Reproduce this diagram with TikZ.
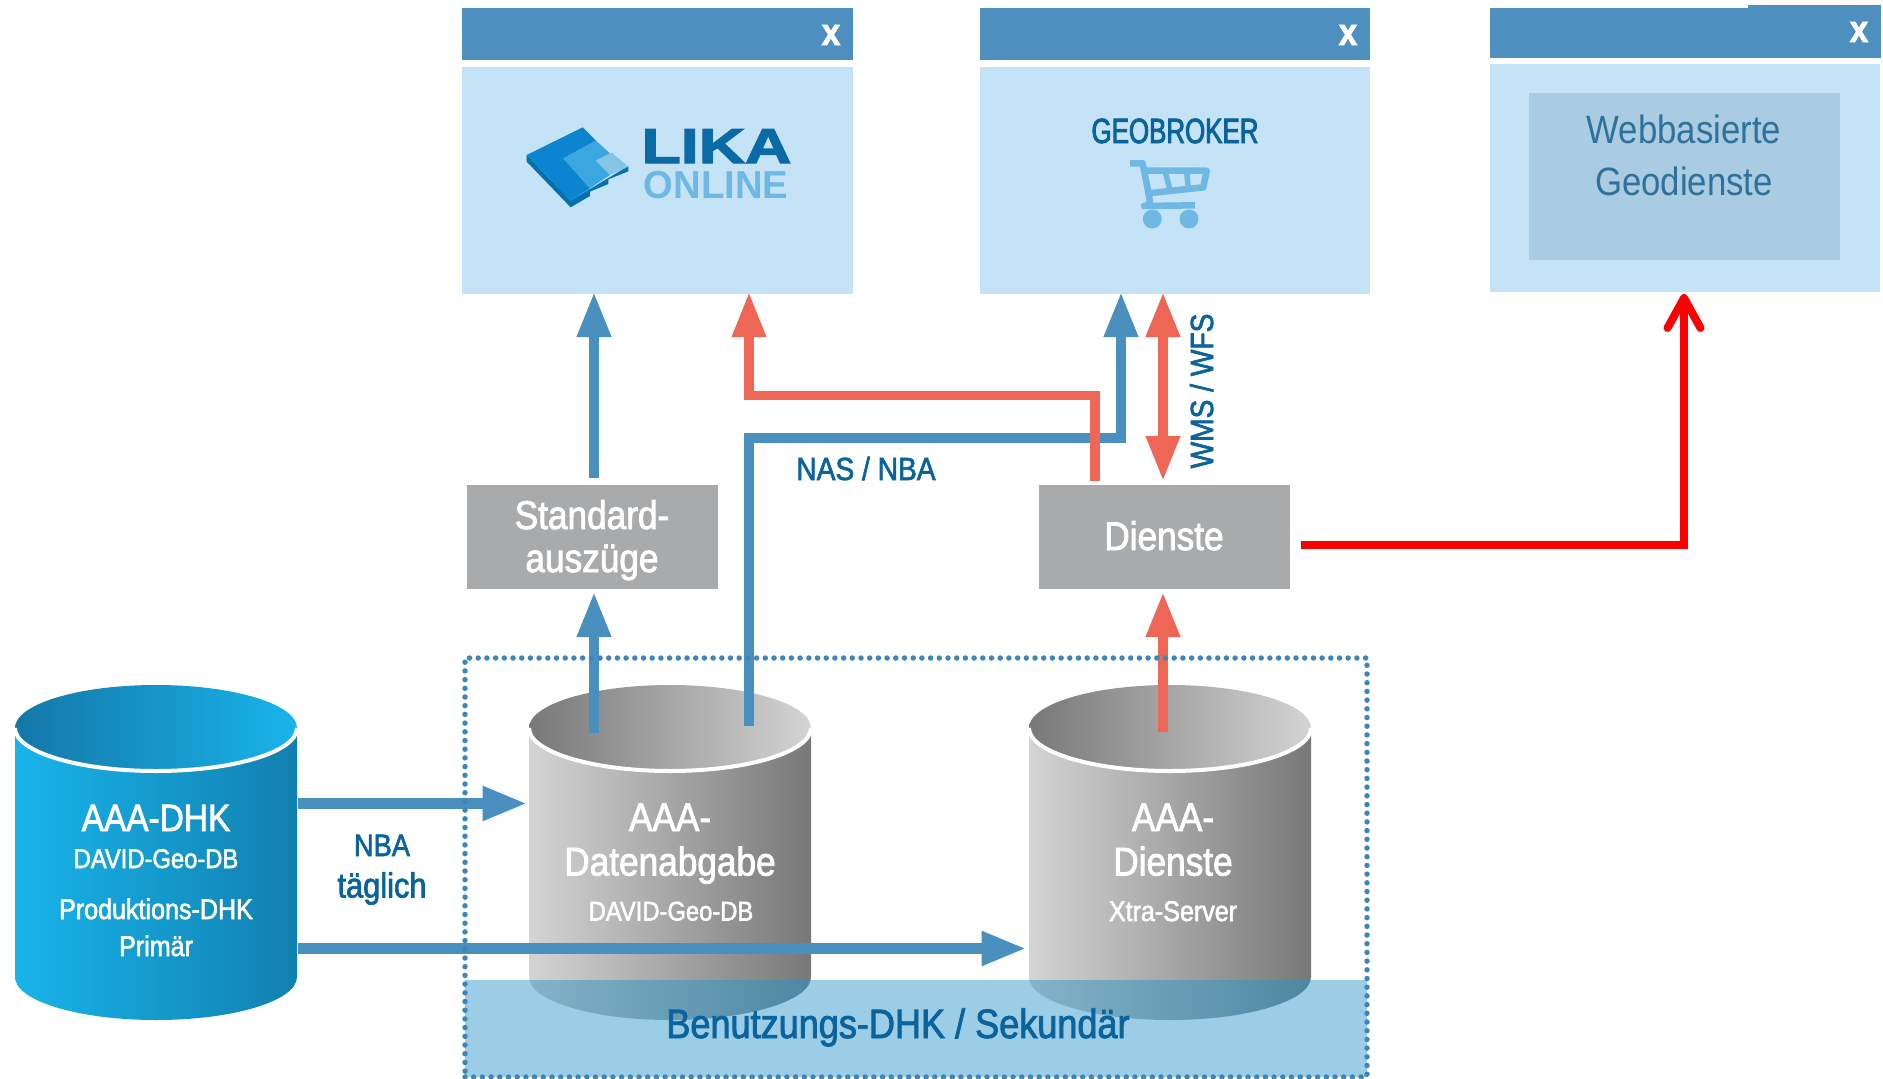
\documentclass[tikz,border=0pt]{standalone}
\usepackage{fontspec}
\setmainfont{Liberation Sans}[FakeStretch=0.88,FakeBold=2]
\newfontfamily\webfont{Liberation Sans}[FakeStretch=0.88]
\newfontfamily\geofont{Liberation Sans}[FakeStretch=0.74,FakeBold=2.5]
\newfontfamily\likafont{Liberation Sans Bold}[FakeStretch=1.31,FakeBold=3]
\newfontfamily\onlinefont{Liberation Sans}[FakeStretch=0.98]
\usetikzlibrary{arrows.meta,calc}
\newcommand\fsz[1]{\fontsize{#1}{#1}\selectfont}
\definecolor{headblue}{HTML}{4D8FBE}
\definecolor{bodyblue}{HTML}{C5E3F6}
\definecolor{innerblue}{HTML}{A9CCE2}
\definecolor{webtext}{HTML}{2F7199}
\definecolor{linkblue}{HTML}{4A90BF}
\definecolor{linkred}{HTML}{EE6655}
\definecolor{boxgray}{HTML}{A9AAAB}
\definecolor{labelblue}{HTML}{0B639C}
\definecolor{bandblue}{HTML}{9BCDE6}
\definecolor{dotblue}{HTML}{3F86B8}
\definecolor{cartblue}{HTML}{6FB8E4}
\definecolor{cyanbright}{HTML}{18B4EA}
\definecolor{cyandark}{HTML}{1180B0}
\definecolor{cyantop}{HTML}{1477A8}
\definecolor{graylight}{HTML}{D4D4D4}
\definecolor{graydark}{HTML}{787878}
\definecolor{tintlight}{HTML}{82B3CA}
\definecolor{tintdark}{HTML}{4E87A3}
\definecolor{logomain}{HTML}{0B85D0}
\definecolor{logoside}{HTML}{0670AE}
\definecolor{logomid}{HTML}{3AA8DF}
\definecolor{logolight}{HTML}{86C4E6}
\definecolor{likablue}{HTML}{0A6AA6}
\tikzset{
  winhead/.style={fill=headblue,minimum width=391pt,minimum height=52pt,inner sep=0,outer sep=0},
  winbody/.style={fill=bodyblue,minimum width=391pt,minimum height=227pt,inner sep=0,outer sep=0},
  graybox/.style={fill=boxgray,minimum width=251pt,minimum height=104pt,inner sep=0,outer sep=0},
  cylframe/.style={minimum width=283pt,minimum height=335pt,inner sep=0,outer sep=0},
  lbl/.style={anchor=base,inner sep=0,outer sep=0},
  closemark/.style={lbl,text=white,font=\bfseries\fsz{38}},
  whitebig/.style={lbl,text=white,font=\fsz{39}},
  whitesmall/.style={lbl,text=white,font=\fsz{27}},
  whitemid/.style={lbl,text=white,font=\fsz{28.5}},
  bluelabel/.style={lbl,text=labelblue,font=\fsz{32}},
  bluelink/.style={line width=10pt,line join=miter,draw=linkblue,-{Triangle[length=45pt,width=32pt,color=linkblue]}},
  redlink/.style={line width=10pt,line join=miter,draw=linkred,-{Triangle[length=45pt,width=32pt,color=linkred]}},
  reddouble/.style={line width=10pt,draw=linkred,{Triangle[length=45pt,width=32pt,color=linkred]}-{Triangle[length=45pt,width=32pt,color=linkred]}},
  webarrow/.style={line width=8pt,draw=red,line join=miter,-{Straight Barb[length=30pt,width=33pt,round]}},
}
\newcommand\cylbody[3]{\path[left color=#2,right color=#3] (#1-141,728) -- (#1-141,977) arc[start angle=180,end angle=360,x radius=141pt,y radius=43pt] -- (#1+141,728) -- cycle;}
\newcommand\cyltop[3]{\path[left color=#2,right color=#3] (#1,728) ellipse[x radius=141pt,y radius=43pt];
  \draw[white,line width=4pt] (#1-141,728) arc[start angle=180,end angle=360,x radius=141pt,y radius=43pt];}
\begin{document}
\begin{tikzpicture}[x=1pt,y=-1pt]
\useasboundingbox (0,0) rectangle (1883,1079);

% cylinders
\node[cylframe] (primary) at (156,852) {};
\node[cylframe] (abgabe) at (670,852) {};
\node[cylframe] (dienstedb) at (1170,852) {};
\cylbody{156}{cyanbright}{cyandark}
\cyltop{156}{cyantop}{cyanbright}
\cylbody{670}{graylight}{graydark}
\cyltop{670}{graydark}{graylight}
\cylbody{1170}{graylight}{graydark}
\cyltop{1170}{graydark}{graylight}

% band of the secondary DHK, tinting the cylinder feet
\fill[bandblue] (465,980) rectangle (1367,1077);
\begin{scope}
  \clip (465,980) rectangle (1367,1077);
  \cylbody{670}{tintlight}{tintdark}
  \cylbody{1170}{tintlight}{tintdark}
\end{scope}

% windows
\node[winhead] (head1) at (657.5,34) {};
\node[winbody] (win1) at (657.5,180.5) {};
\node[winhead,minimum width=390pt] (head2) at (1174.5,34) {};
\node[winbody,minimum width=390pt] (win2) at (1174.5,180.5) {};
\node[winhead,minimum height=50pt] (head3) at (1685.5,33) {};
\fill[headblue] (1748,5) rectangle (1881,9);
\node[winbody,minimum width=390pt,minimum height=228pt] (win3) at (1685,178) {};
\node[closemark] (x1) at (831,45) {x};
\node[closemark] (x2) at (1348,45) {x};
\node[closemark] (x3) at (1859,42) {x};

% Webbasierte Geodienste
\node[fill=innerblue,minimum width=311pt,minimum height=167pt,inner sep=0] (webinner) at (1684.5,176.5) {};
\node[lbl,text=webtext,font=\webfont\fsz{39.5}] (webl1) at (1684,143) {Webbasierte};
\node[lbl,text=webtext,font=\webfont\fsz{39.5}] (webl2) at (1684,195) {Geodienste};

% LIKA logo
\begin{scope}[shift={(510,110)},x=0.3333pt,y=-0.3333pt]
  \fill[logoside] (50,135) -- (50,155) -- (182,292) -- (240,258) -- (240,245) -- (295,222) -- (295,208) -- (355,184) -- (355,168) -- (182,272) -- cycle;
  \fill[logomain] (50,135) -- (218,52) -- (258,92) -- (160,145) -- (240,235) -- (182,272) -- cycle;
  \fill[logomid] (160,145) -- (258,92) -- (300,130) -- (258,152) -- (300,195) -- (240,235) -- cycle;
  \fill[logolight] (258,152) -- (305,128) -- (355,170) -- (300,195) -- cycle;
\end{scope}
\node[lbl,text=likablue,font=\likafont\fsz{49}] (lika) at (716.5,163) {LIKA};
\node[lbl,text=cartblue,font=\onlinefont\bfseries\fsz{39}] (online) at (716,198) {ONLINE};

% GEOBROKER
\node[lbl,text=labelblue,font=\geofont\fsz{35}] (geo) at (1175,143) {GEOBROKER};
\begin{scope}[shift={(1080,110)},x=0.3333pt,y=-0.3333pt]
  \draw[cartblue,line width=6.5pt,line join=round] (150,160) -- (188,160) -- (208,262) .. controls (212,282) and (205,288) .. (192,288) -- (345,286);
  \draw[cartblue,line width=6.5pt,line join=round] (190,182) -- (380,182) -- (370,232) -- (205,250);
  \draw[cartblue,line width=5.5pt] (255,182) -- (270,240) (320,182) -- (325,236);
  \fill[cartblue] (217,327) circle[radius=9.5pt] (327,327) circle[radius=9.5pt];
\end{scope}

% boxes
\node[graybox] (standard) at (592,537) {};
\node[graybox] (dienste) at (1164,537) {};
\node[whitebig,font=\fsz{40}] (st1) at (592,529) {Standard-};
\node[whitebig,font=\fsz{40}] (st2) at (592,572) {auszüge};
\node[whitebig,font=\fsz{40}] (di) at (1164,550) {Dienste};

% connectors
\coordinate (w1a) at (594,292);
\coordinate (w1b) at (749,292);
\coordinate (w2a) at (1121,292);
\coordinate (w2b) at (1163,292);
\coordinate (dienstered) at (1095,481);
\coordinate (abgabeout) at (749,726);
\coordinate (standardin) at (594,592);
\coordinate (abgabeup) at (594,733);
\coordinate (dienstein) at (1163,592);
\coordinate (dbup) at (1163,732);
\draw[bluelink] ($(standard.north)+(2,-7)$) -- (w1a);
\draw[bluelink] (abgabeout) |- (1121,437.5) -- (w2a);
\draw[redlink,line width=9.5pt] (dienstered) |- (749,395.5) -- (w1b);
\draw[reddouble] (dienste.north |- w2b) ++(-1,0) -- ($(dienste.north)+(-1,-4)$);
\draw[bluelink] (abgabeup) -- (standardin);
\draw[redlink] (dbup) -- (dienstein);
\draw[bluelink,line width=11pt] (primary.east |- 0,803.5) -- ($(abgabe.west)+(-1,-48.5)$);
\draw[bluelink,line width=11pt] (primary.east |- 0,948.5) -- ($(dienstedb.west)+(-2,96.5)$);
\draw[webarrow] ($(dienste.east)+(11,8)$) -| ($(win3.south)+(-1,2)$);

% dotted frame
\node[draw=dotblue,line width=5.5pt,line cap=round,dash pattern=on 0pt off 8.7pt,minimum width=902pt,minimum height=419pt,inner sep=0,outer sep=0] (frame) at (916,867.5) {};

% labels
\node[whitebig,font=\fsz{38}] (t1) at (156,831) {AAA-DHK};
\node[whitesmall] (t2) at (156,868) {DAVID-Geo-DB};
\node[whitemid] (t3) at (156,919) {Produktions-DHK};
\node[whitemid] (t4) at (156,956) {Primär};
\node[whitebig,font=\fsz{40}] (t5) at (670,831) {AAA-};
\node[whitebig,font=\fsz{40}] (t6) at (670,875.5) {Datenabgabe};
\node[whitesmall] (t7) at (671,920.5) {DAVID-Geo-DB};
\node[whitebig,font=\fsz{40}] (t8) at (1173,831) {AAA-};
\node[whitebig,font=\fsz{40}] (t9) at (1173,875.5) {Dienste};
\node[whitemid] (t10) at (1173,921) {Xtra-Server};
\node[bluelabel,font=\fsz{31}] (t11) at (382,856) {NBA};
\node[bluelabel,font=\fsz{35}] (t12) at (382,897.5) {täglich};
\node[bluelabel] (t13) at (866,480) {NAS / NBA};
\node[bluelabel,rotate=90] (t14) at (1213,391) {WMS / WFS};
\node[bluelabel,font=\fsz{41}] (t15) at (898,1038) {Benutzungs-DHK / Sekundär};
\end{tikzpicture}
\end{document}
